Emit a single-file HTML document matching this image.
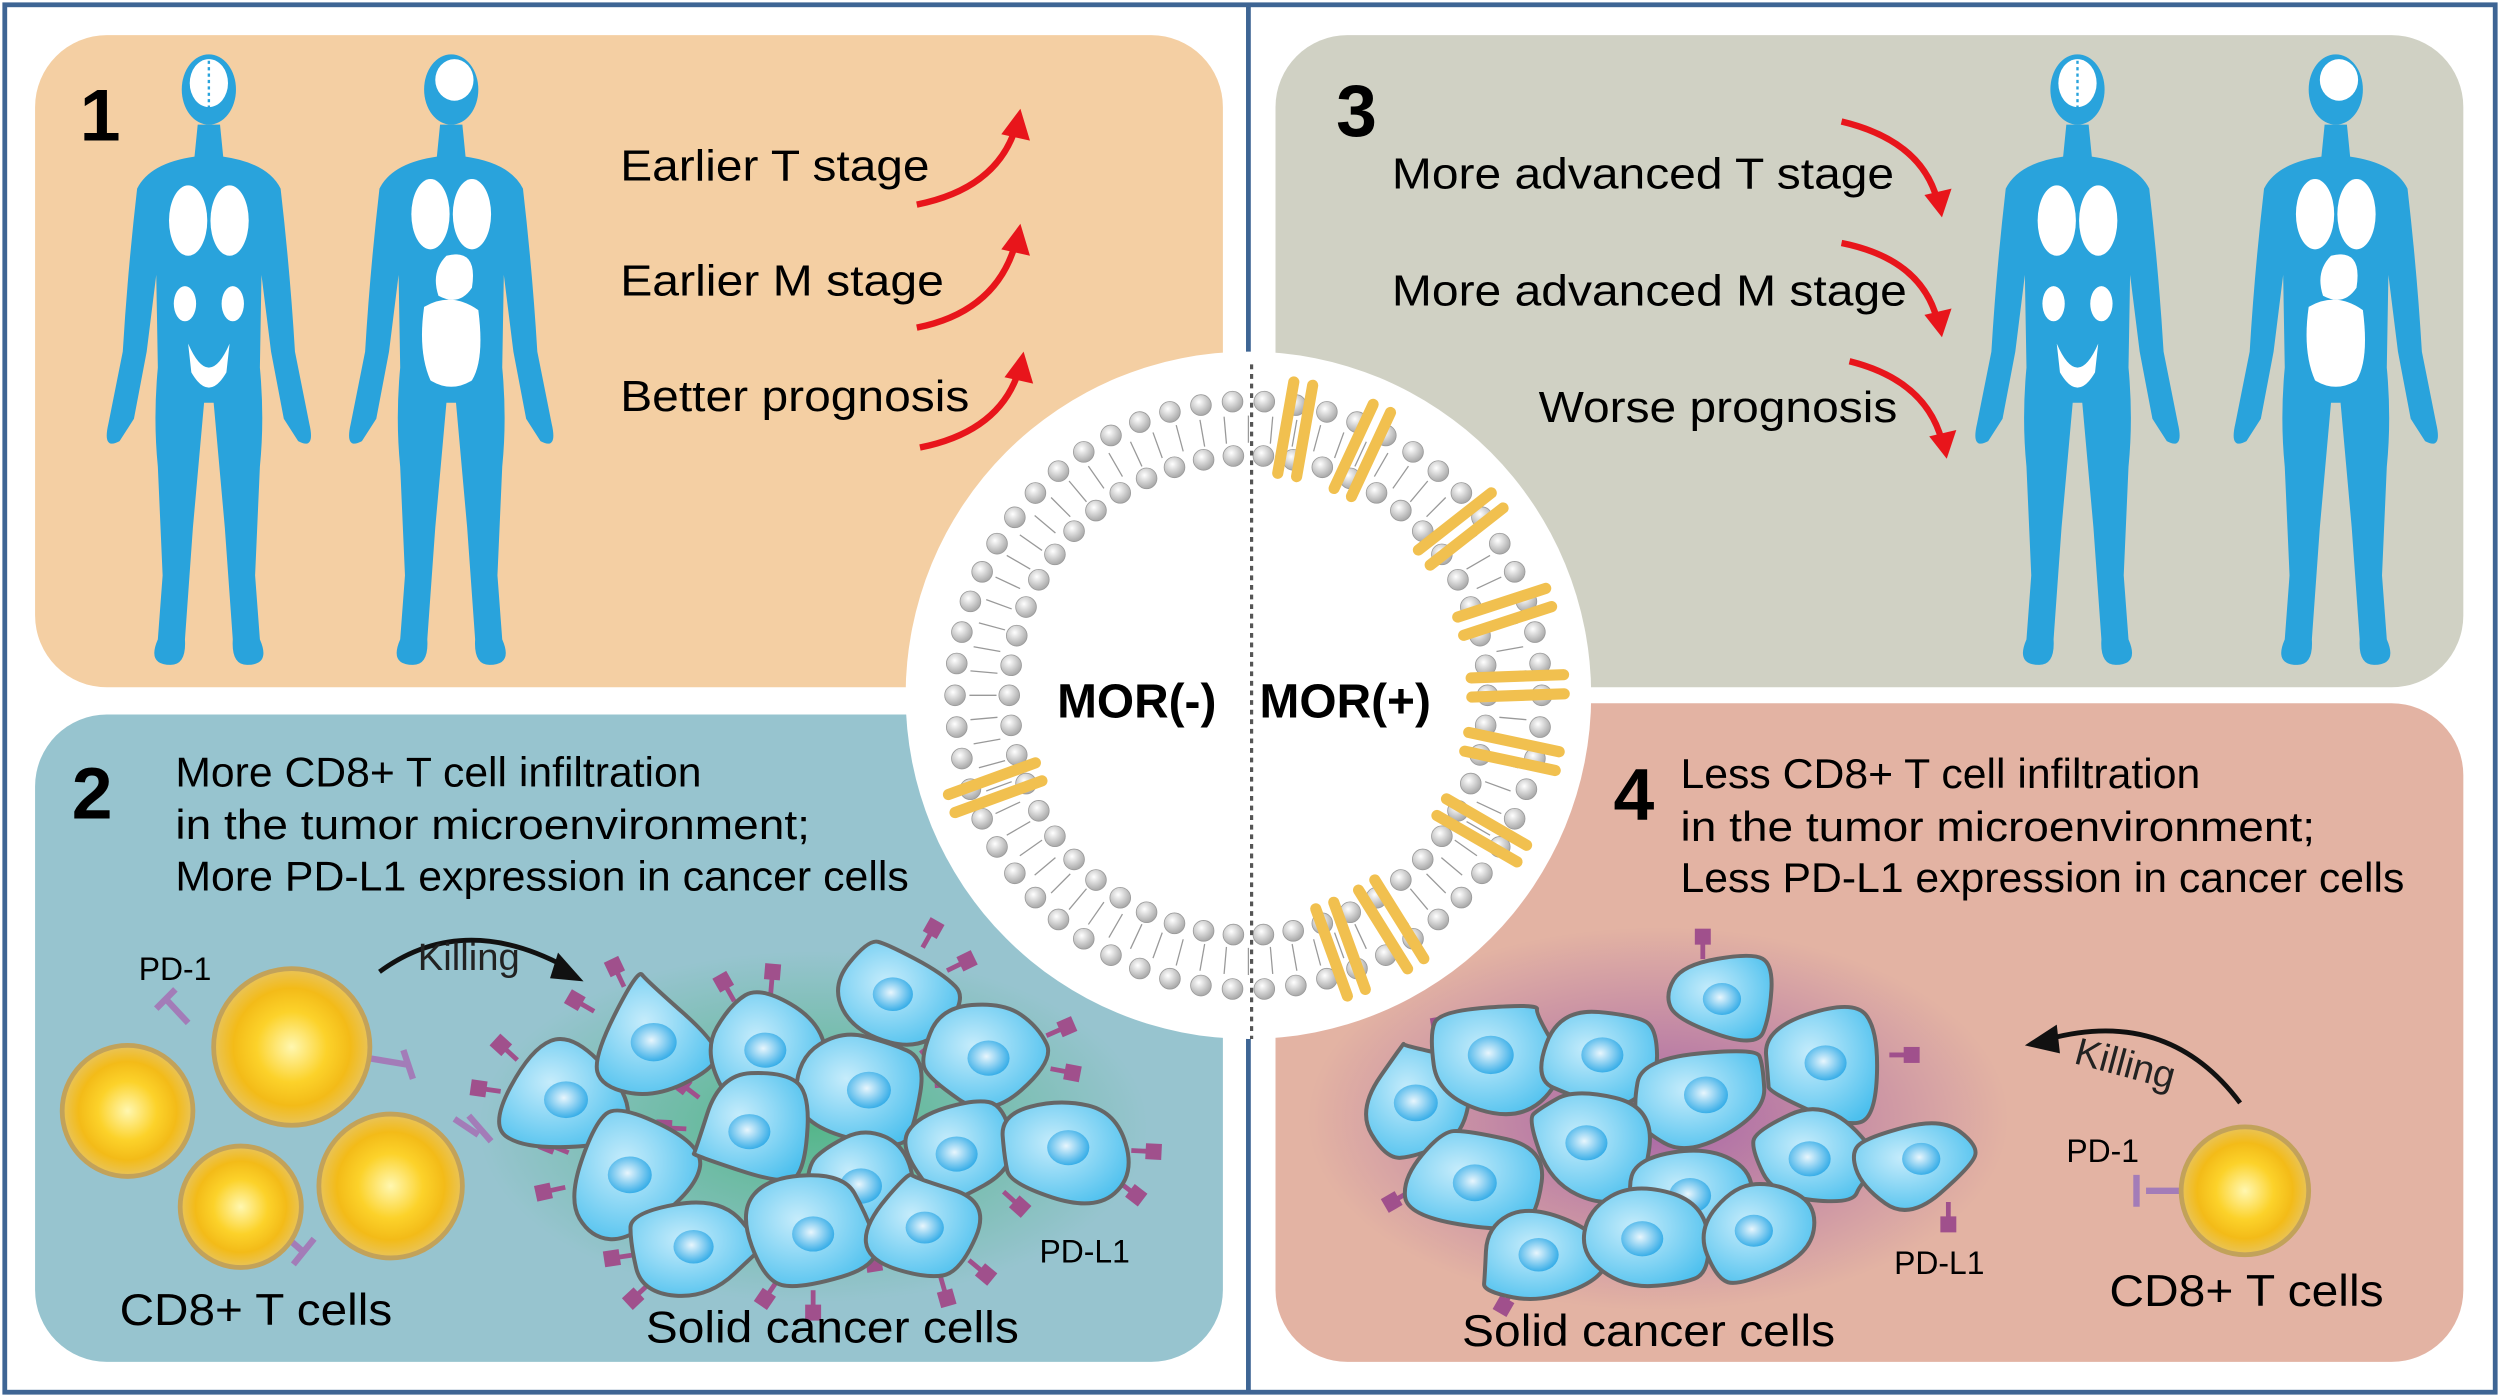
<!DOCTYPE html>
<html><head><meta charset="utf-8"><style>
html,body{margin:0;padding:0;background:#fff}
svg{display:block}
text{font-family:"Liberation Sans",Arial,sans-serif}
</style></head><body>
<svg id="s" width="2500" height="1397" viewBox="0 0 1568 874" preserveAspectRatio="none" xmlns="http://www.w3.org/2000/svg">
<defs>
<radialGradient id="tc" cx="50%" cy="50%" r="50%"><stop offset="0" stop-color="#fff7b0"/><stop offset="0.45" stop-color="#fcd22a"/><stop offset="0.75" stop-color="#f3bb18"/><stop offset="1" stop-color="#e9c45a"/></radialGradient>
<radialGradient id="cg" cx="40%" cy="40%" r="70%"><stop offset="0" stop-color="#c6ecfb"/><stop offset="1" stop-color="#4cc0ee"/></radialGradient>
<radialGradient id="ng" cx="45%" cy="45%" r="60%"><stop offset="0" stop-color="#e8f6fd"/><stop offset="1" stop-color="#2aa8e6"/></radialGradient>
<radialGradient id="bead" cx="40%" cy="35%" r="65%"><stop offset="0" stop-color="#ffffff"/><stop offset="1" stop-color="#a9a9a9"/></radialGradient>
<radialGradient id="gg" cx="50%" cy="50%" r="50%"><stop offset="0" stop-color="#2fae63" stop-opacity="0.9"/><stop offset="1" stop-color="#2fae63" stop-opacity="0"/></radialGradient>
<radialGradient id="pg" cx="50%" cy="50%" r="50%"><stop offset="0" stop-color="#8a3fa8" stop-opacity="0.9"/><stop offset="1" stop-color="#8a3fa8" stop-opacity="0"/></radialGradient>
<path id="body" fill="#29a3dc" d="M58,48 L72,48 L74,68 Q102,72 110,88 Q116,140 119,190 L128,235 Q132,252 121,246 L112,232 L104,190 L98,142 L97,200 Q100,232 97,262 L94,330 L97,370 Q104,386 89,386 Q79,386 80,370 L75,300 L68,222 L62,222 L55,300 L50,370 Q51,386 41,386 Q26,386 33,370 L36,330 L33,262 Q30,232 33,200 L32,142 L26,190 L18,232 L9,246 Q-2,252 2,235 L11,190 Q14,140 20,88 Q28,72 56,68 Z"/>
<g id="man">
<ellipse cx="65" cy="26" rx="17" ry="22" fill="#29a3dc"/>
<use href="#body"/>
<ellipse cx="65" cy="22" rx="12" ry="15" fill="#fff"/>
<path d="M65,8 L65,38" stroke="#29a3dc" stroke-width="1.5" stroke-dasharray="2 2"/>
<ellipse cx="52" cy="108" rx="12" ry="22" fill="#fff"/>
<ellipse cx="78" cy="108" rx="12" ry="22" fill="#fff"/>
<ellipse cx="50" cy="160" rx="7" ry="11" fill="#fff"/>
<ellipse cx="80" cy="160" rx="7" ry="11" fill="#fff"/>
<path d="M52,185 Q65,215 78,185 L76,203 Q65,222 54,203Z" fill="#fff"/>
</g>
<g id="woman">
<ellipse cx="65" cy="26" rx="17" ry="22" fill="#29a3dc"/>
<use href="#body"/>
<ellipse cx="67" cy="20" rx="12" ry="13" fill="#fff"/>
<ellipse cx="52" cy="104" rx="12" ry="22" fill="#fff"/>
<ellipse cx="78" cy="104" rx="12" ry="22" fill="#fff"/>
<path d="M62,130 Q82,125 78,150 Q70,162 57,155 Q52,140 62,130Z" fill="#fff"/>
<path d="M48,162 Q65,152 82,164 Q86,195 78,208 Q65,216 52,208 Q44,190 48,162Z" fill="#fff"/>
</g>
</defs>
<rect x="3" y="3" width="1562" height="868" fill="#fff" stroke="#3e6594" stroke-width="3"/>
<line x1="783" y1="3" x2="783" y2="871" stroke="#3e6594" stroke-width="3"/>
<rect x="22" y="22" width="745" height="408" rx="45" fill="#f4cfa3"/>
<rect x="800" y="22" width="745" height="408" rx="45" fill="#d0d1c4"/>
<rect x="22" y="447" width="745" height="405" rx="45" fill="#97c4cf"/>
<rect x="800" y="440" width="745" height="412" rx="45" fill="#e3b3a3"/>
<ellipse cx="510" cy="705" rx="210" ry="110" fill="url(#gg)" opacity="0.7"/>
<ellipse cx="1040" cy="700" rx="220" ry="120" fill="url(#pg)" opacity="0.75"/>
<use href="#man" transform="translate(66,30)"/>
<use href="#woman" transform="translate(218,30)"/>
<use href="#man" transform="translate(1238,30)"/>
<use href="#woman" transform="translate(1400,30)"/>
<g lengthAdjust="spacingAndGlyphs">
<text x="50" y="88" font-size="46" font-weight="bold">1</text>
<text x="389" y="113" font-size="27.5" textLength="194" lengthAdjust="spacingAndGlyphs">Earlier T stage</text>
<text x="389" y="185" font-size="27.5" textLength="203" lengthAdjust="spacingAndGlyphs">Earlier M stage</text>
<text x="389" y="257" font-size="27.5" textLength="219" lengthAdjust="spacingAndGlyphs">Better prognosis</text>
<text x="838" y="85" font-size="46" font-weight="bold">3</text>
<text x="873" y="118" font-size="27.5" textLength="315" lengthAdjust="spacingAndGlyphs">More advanced T stage</text>
<text x="873" y="191" font-size="27.5" textLength="323" lengthAdjust="spacingAndGlyphs">More advanced M stage</text>
<text x="965" y="264" font-size="27.5" textLength="225" lengthAdjust="spacingAndGlyphs">Worse prognosis</text>
<text x="45" y="512" font-size="46" font-weight="bold">2</text>
<text x="110" y="492" font-size="26" textLength="330" lengthAdjust="spacingAndGlyphs">More CD8+ T cell infiltration</text>
<text x="110" y="525" font-size="26" textLength="398" lengthAdjust="spacingAndGlyphs">in the tumor microenvironment;</text>
<text x="110" y="557" font-size="26" textLength="460" lengthAdjust="spacingAndGlyphs">More PD-L1 expression in cancer cells</text>
<text x="1012" y="513" font-size="46" font-weight="bold">4</text>
<text x="1054" y="493" font-size="26" textLength="326" lengthAdjust="spacingAndGlyphs">Less CD8+ T cell infiltration</text>
<text x="1054" y="526" font-size="26" textLength="398" lengthAdjust="spacingAndGlyphs">in the tumor microenvironment;</text>
<text x="1054" y="558" font-size="26" textLength="454" lengthAdjust="spacingAndGlyphs">Less PD-L1 expression in cancer cells</text>
</g>
<g fill="none" stroke="#e8151b" stroke-width="4">
<path d="M575,128 Q625,118 637,80"/><path d="M575,205 Q625,195 637,152"/><path d="M577,280 Q627,270 639,232"/>
<path d="M1155,76 Q1205,88 1215,125"/><path d="M1155,152 Q1205,162 1215,200"/><path d="M1160,226 Q1208,238 1218,276"/>
</g>
<g fill="#e8151b"><path d="M628,84 L640,68 L646,88Z"/><path d="M628,156 L640,140 L646,160Z"/><path d="M630,236 L642,220 L648,240Z"/>
<path d="M1207,122 L1218,136 L1224,118Z"/><path d="M1207,197 L1218,211 L1224,193Z"/><path d="M1210,273 L1221,287 L1227,269Z"/></g>
<g stroke="#a37cb8" stroke-width="4" fill="none">
<path d="M118,640 L104,625 M98,631 L110,619"/>
<path d="M231,662 L255,666 M253,657 L259,675"/>
<path d="M285,700 L300,710 M294,698 L308,714"/>
<path d="M175,770 L190,783 M184,791 L197,775"/>
<path d="M1370,745 L1346,745 M1340,735 L1340,755"/>
</g>
<g stroke="#c2a25a" stroke-width="3">
<circle cx="80" cy="695" r="41" fill="url(#tc)"/>
<circle cx="183" cy="655" r="49" fill="url(#tc)"/>
<circle cx="151" cy="755" r="38" fill="url(#tc)"/>
<circle cx="245" cy="742" r="45" fill="url(#tc)"/>
<circle cx="1408" cy="745" r="40" fill="url(#tc)"/>
</g>
<text x="87" y="613" font-size="20">PD-1</text>
<text x="1296" y="727" font-size="20">PD-1</text>
<path d="M238,608 Q290,570 355,605" fill="none" stroke="#111" stroke-width="3"/>
<path d="M350,596 L366,614 L345,612Z" fill="#111"/>
<text x="262" y="607" font-size="24" fill="#222">Killing</text>
<path d="M1405,690 Q1360,630 1285,650" fill="none" stroke="#111" stroke-width="3"/>
<path d="M1290,641 L1270,654 L1292,659Z" fill="#111"/>
<text x="1300" y="665" font-size="24" fill="#222" transform="rotate(15 1300 665)">Killing</text>
<g id="cells"></g>
<text x="75" y="829" font-size="28" textLength="171" lengthAdjust="spacingAndGlyphs">CD8+ T cells</text>
<text x="1323" y="817" font-size="28" textLength="172" lengthAdjust="spacingAndGlyphs">CD8+ T cells</text>
<text x="405" y="840" font-size="28" textLength="234" lengthAdjust="spacingAndGlyphs">Solid cancer cells</text>
<text x="652" y="790" font-size="20">PD-L1</text>
<text x="917" y="842" font-size="28" textLength="234" lengthAdjust="spacingAndGlyphs">Solid cancer cells</text>
<text x="1188" y="797" font-size="20">PD-L1</text>
<circle cx="783" cy="435" r="215" fill="#fff"/>
<g id="mem"></g>
<line x1="785" y1="228" x2="785" y2="650" stroke="#555" stroke-width="2" stroke-dasharray="3 3"/>
<text x="663" y="449" font-size="30" font-weight="bold">MOR(-)</text>
<text x="790" y="449" font-size="30" font-weight="bold">MOR(+)</text>
</svg>
<script>
var NS="http://www.w3.org/2000/svg";
function el(p,t,a){var e=document.createElementNS(NS,t);for(var k in a)e.setAttribute(k,a[k]);p.appendChild(e);return e;}
var mem=document.getElementById('mem');
var cx=783,cy=435;
for(var i=0;i<72;i++){var a=i/72*2*Math.PI;
 var x1=cx+175*Math.cos(a),y1=cy+175*Math.sin(a),x2=cx+158*Math.cos(a),y2=cy+158*Math.sin(a);
 el(mem,'line',{x1:x1,y1:y1,x2:x2,y2:y2,stroke:'#999','stroke-width':0.8});}
for(var i=0;i<58;i++){var a=i/58*2*Math.PI;
 el(mem,'circle',{cx:cx+184*Math.cos(a),cy:cy+184*Math.sin(a),r:6.5,fill:'url(#bead)',stroke:'#999','stroke-width':0.5});}
for(var i=0;i<50;i++){var a=i/50*2*Math.PI;
 el(mem,'circle',{cx:cx+150*Math.cos(a),cy:cy+150*Math.sin(a),r:6.5,fill:'url(#bead)',stroke:'#999','stroke-width':0.5});}
var angs=[-80,-65,-38,-18,-2,12,30,58,70,160];
angs.forEach(function(d){var a=d*Math.PI/180;
 for(var k=-1;k<=1;k+=2){var o=k*6;var px=-Math.sin(a)*o,py=Math.cos(a)*o;
 el(mem,'line',{x1:cx+140*Math.cos(a)+px,y1:cy+140*Math.sin(a)+py,x2:cx+198*Math.cos(a)+px,y2:cy+198*Math.sin(a)+py,stroke:'#f1c04f','stroke-width':7,'stroke-linecap':'round'});}
});
var cg=document.getElementById('cells');
var seed=7;function rnd(){seed=(seed*9301+49297)%233280;return seed/233280;}
function cell(x,y,r){var n=7,pts=[];for(var i=0;i<n;i++){var a=i/n*2*Math.PI+rnd();var rr=r*(0.8+0.35*rnd());pts.push([x+rr*Math.cos(a),y+rr*0.85*Math.sin(a)]);}
 var d='';for(var i=0;i<n;i++){var p=pts[i],q=pts[(i+1)%n];var m=[(p[0]+q[0])/2,(p[1]+q[1])/2];if(i==0){var pm=pts[n-1];d='M'+((pm[0]+p[0])/2)+','+((pm[1]+p[1])/2);}d+=' Q'+p[0]+','+p[1]+' '+m[0]+','+m[1];}
 el(cg,'path',{d:d+'Z',fill:'url(#cg)',stroke:'#666','stroke-width':2.5});
 el(cg,'ellipse',{cx:x,cy:y,rx:r*0.3,ry:r*0.25,fill:'url(#ng)'});}
function rec(x,y,ang){var a=ang*Math.PI/180;var x2=x+14*Math.cos(a),y2=y+14*Math.sin(a);
 el(cg,'line',{x1:x,y1:y,x2:x2,y2:y2,stroke:'#a0508c','stroke-width':3});
 el(cg,'rect',{x:x2-5,y:y2-5,width:10,height:10,fill:'#a0508c',transform:'rotate('+ang+' '+x2+' '+y2+')'});}
function cluster(list,recs){recs.forEach(function(r){rec(r[0],r[1],r[2]);});list.forEach(function(c){cell(c[0],c[1],c[2]);});}
var c2=[[355,688,46],[410,652,48],[480,657,44],[560,622,42],[620,662,44],[545,682,46],[395,735,46],[470,708,44],[540,742,44],[600,722,44],[670,718,44],[435,780,42],[510,772,44],[580,768,40]];
var r2=[];c2.forEach(function(c){var a=Math.atan2(c[1]-710,c[0]-510);r2.push([c[0]+c[2]*Math.cos(a)*0.9,c[1]+c[2]*Math.sin(a)*0.8,a*180/Math.PI]);r2.push([c[0]+c[2]*Math.cos(a+0.6)*0.9,c[1]+c[2]*Math.sin(a+0.6)*0.8,(a+0.6)*180/Math.PI]);});
cluster(c2,r2);
var c4=[[888,690,46],[935,660,48],[1005,660,44],[1080,625,40],[1145,665,44],[1070,685,46],[925,740,46],[995,715,44],[1060,748,44],[1135,725,44],[1205,725,40],[965,785,42],[1030,775,44],[1100,770,40]];
cluster(c4,[[1068,600,-90],[905,655,-100],[1185,660,0],[885,745,150],[1222,752,90],[950,805,120]]);
</script>
</body></html>
